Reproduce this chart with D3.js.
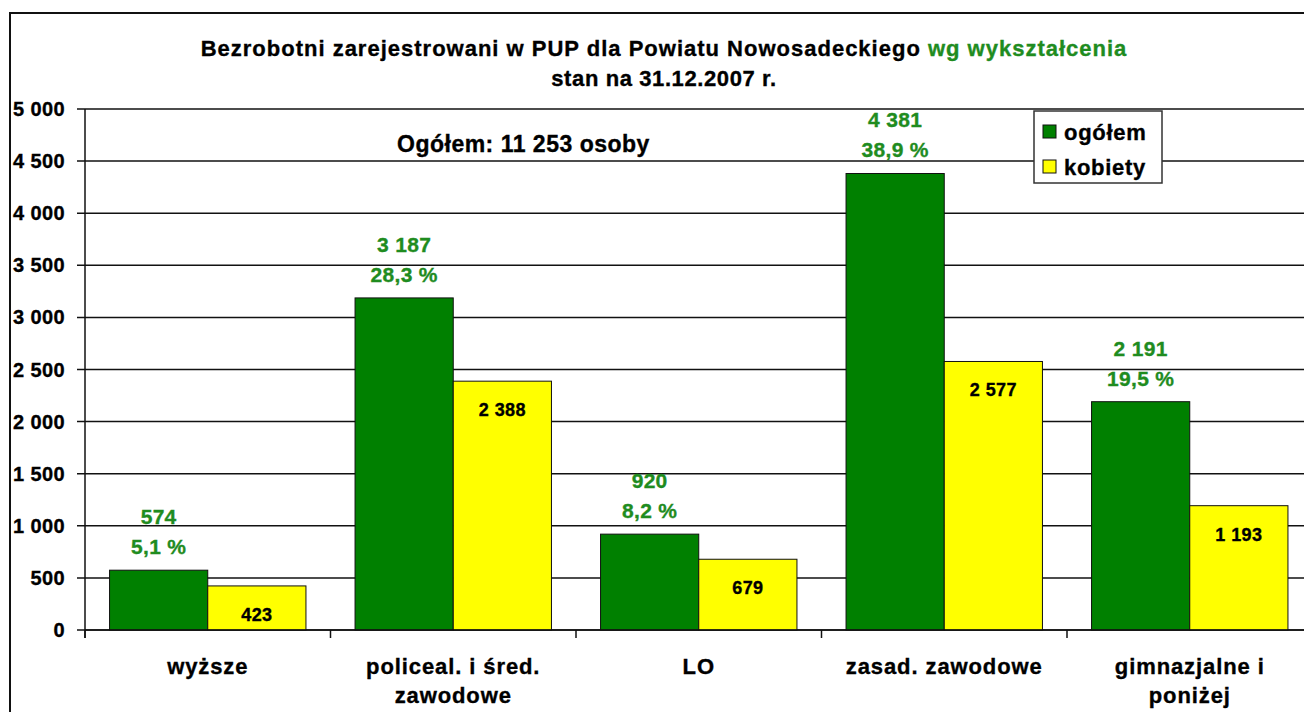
<!DOCTYPE html>
<html>
<head>
<meta charset="utf-8">
<script src="https://cdn.jsdelivr.net/npm/d3@7"></script>
<style>
  body { margin: 0; background: #fff; }
  svg { font-family: "Liberation Sans", Arial, sans-serif; font-weight: bold; }
  svg text { stroke: currentColor; stroke-width: 0.35px; }
</style>
</head>
<body>
<div id="chart"></div>
<script>
// categories and values
let categories = ["wyższe", "policeal. i śred. zawodowe", "LO", "zasad. zawodowe", "gimnazjalne i poniżej"];
let categoryLines = [["wyższe"], ["policeal. i śred.", "zawodowe"], ["LO"], ["zasad. zawodowe"], ["gimnazjalne i", "poniżej"]];
let ogolem = [574, 3187, 920, 4381, 2191];
let kobiety = [423, 2388, 679, 2577, 1193];
let percents = ["5,1 %", "28,3 %", "8,2 %", "38,9 %", "19,5 %"];
let yTicks = [0, 500, 1000, 1500, 2000, 2500, 3000, 3500, 4000, 4500, 5000];
let seriesNames = ["ogółem", "kobiety"];

let green = "#008000", yellow = "#ffff00", labelGreen = "#1f8c1f";

// polish number format: space as thousands separator
let pl = d3.formatLocale({ decimal: ",", thousands: " ", grouping: [3], currency: ["", ""] });
let fmt = pl.format(",d");

let W = 1304, H = 712;
let margin = { top: 109, left: 85, bottom: 82, right: -8.5 };

let svg = d3.select("#chart").append("svg")
    .attr("width", W)
    .attr("height", H);

// outer chart border (runs off the right and bottom edge)
svg.append("rect")
    .attr("x", 10).attr("y", 13)
    .attr("width", W + 20).attr("height", H + 20)
    .attr("fill", "none")
    .attr("stroke", "#111")
    .attr("stroke-width", 2);

let x = d3.scaleBand()
    .domain(categories)
    .range([margin.left, W - margin.right])
    .paddingInner(0.2)
    .paddingOuter(0.1);

let xSub = d3.scaleBand()
    .domain(seriesNames)
    .range([0, x.bandwidth()]);

let y = d3.scaleLinear()
    .domain([0, 5000])
    .range([H - margin.bottom, margin.top]);

// gridlines
svg.append("g")
    .selectAll("line")
    .data(yTicks)
    .enter().append("line")
    .attr("x1", margin.left - 8)
    .attr("x2", W + 10)
    .attr("y1", d => y(d))
    .attr("y2", d => y(d))
    .attr("stroke", "#111")
    .attr("stroke-width", 1.5);

// y tick labels
svg.append("g")
    .selectAll("text")
    .data(yTicks)
    .enter().append("text")
    .attr("x", 65)
    .attr("y", d => y(d) + 7)
    .attr("text-anchor", "end")
    .attr("fill", "#000")
    .style("color", "#000")
    .style("font-size", "20px")
    .style("letter-spacing", "0.4px")
    .text(d => fmt(d));

// y axis line
svg.append("line")
    .attr("x1", margin.left).attr("x2", margin.left)
    .attr("y1", y(5000)).attr("y2", y(0) + 8)
    .attr("stroke", "#111")
    .attr("stroke-width", 1.5);

// category boundary ticks
let boundaries = categories.map(c => x(c) - x.step() * x.paddingInner() / 2);
svg.append("g")
    .selectAll("line")
    .data(boundaries)
    .enter().append("line")
    .attr("x1", d => d).attr("x2", d => d)
    .attr("y1", y(0)).attr("y2", y(0) + 8)
    .attr("stroke", "#111")
    .attr("stroke-width", 1.5);

// bars
let groups = svg.append("g")
    .selectAll("g")
    .data(categories)
    .enter().append("g")
    .attr("transform", d => "translate(" + x(d) + ",0)");

groups.append("rect")
    .attr("x", xSub("ogółem"))
    .attr("y", (d, i) => y(ogolem[i]))
    .attr("width", xSub.bandwidth())
    .attr("height", (d, i) => y(0) - y(ogolem[i]))
    .attr("fill", green)
    .attr("stroke", "#111")
    .attr("stroke-width", 1);

groups.append("rect")
    .attr("x", xSub("kobiety"))
    .attr("y", (d, i) => y(kobiety[i]))
    .attr("width", xSub.bandwidth())
    .attr("height", (d, i) => y(0) - y(kobiety[i]))
    .attr("fill", yellow)
    .attr("stroke", "#111")
    .attr("stroke-width", 1);

// x axis line drawn over bar bottoms
svg.append("line")
    .attr("x1", margin.left).attr("x2", W + 10)
    .attr("y1", y(0)).attr("y2", y(0))
    .attr("stroke", "#111")
    .attr("stroke-width", 1.5);

// green labels: value and share above ogółem bars
groups.append("text")
    .attr("x", xSub("ogółem") + xSub.bandwidth() / 2)
    .attr("y", (d, i) => y(ogolem[i]) - 46)
    .attr("text-anchor", "middle")
    .attr("fill", labelGreen)
    .style("color", labelGreen)
    .style("font-size", "21px")
    .style("letter-spacing", "0.3px")
    .text((d, i) => fmt(ogolem[i]));

groups.append("text")
    .attr("x", xSub("ogółem") + xSub.bandwidth() / 2)
    .attr("y", (d, i) => y(ogolem[i]) - 16)
    .attr("text-anchor", "middle")
    .attr("fill", labelGreen)
    .style("color", labelGreen)
    .style("font-size", "21px")
    .style("letter-spacing", "0.3px")
    .text((d, i) => percents[i]);

// black labels inside kobiety bars
groups.append("text")
    .attr("x", xSub("kobiety") + xSub.bandwidth() / 2)
    .attr("y", (d, i) => y(kobiety[i]) + 35)
    .attr("text-anchor", "middle")
    .attr("fill", "#000")
    .style("color", "#000")
    .style("font-size", "18px")
    .style("letter-spacing", "0.4px")
    .text((d, i) => fmt(kobiety[i]));

// category labels
groups.each(function (d, i) {
    let t = d3.select(this).append("text")
        .attr("text-anchor", "middle")
        .attr("fill", "#000")
        .style("color", "#000")
        .style("font-size", "22px")
        .style("letter-spacing", "0.9px");
    categoryLines[i].forEach((line, j) => {
        t.append("tspan")
            .attr("x", x.bandwidth() / 2)
            .attr("y", 674 + j * 29)
            .text(line);
    });
});

// title
let title = svg.append("text")
    .attr("x", 664)
    .attr("y", 56)
    .attr("text-anchor", "middle")
    .attr("fill", "#000")
    .style("color", "#000")
    .style("font-size", "22px")
    .style("letter-spacing", "1px");
title.append("tspan").text("Bezrobotni zarejestrowani w PUP dla Powiatu Nowosadeckiego ");
title.append("tspan").attr("fill", labelGreen).style("color", labelGreen).text("wg wykształcenia");

svg.append("text")
    .attr("x", 664)
    .attr("y", 86)
    .attr("text-anchor", "middle")
    .attr("fill", "#000")
    .style("color", "#000")
    .style("font-size", "22px")
    .style("letter-spacing", "0.6px")
    .text("stan na 31.12.2007 r.");

// total note
svg.append("text")
    .attr("x", 397)
    .attr("y", 152)
    .attr("fill", "#000")
    .style("color", "#000")
    .style("font-size", "23px")
    .style("letter-spacing", "0.5px")
    .text("Ogółem: 11 253 osoby");

// legend
let legend = svg.append("g").attr("transform", "translate(1034,111)");
legend.append("rect")
    .attr("width", 128).attr("height", 72)
    .attr("fill", "#fff")
    .attr("stroke", "#333")
    .attr("stroke-width", 1.5);

let legendColors = [green, yellow];
seriesNames.forEach((name, i) => {
    legend.append("rect")
        .attr("x", 9).attr("y", 14 + i * 35)
        .attr("width", 13).attr("height", 13)
        .attr("fill", legendColors[i])
        .attr("stroke", "#111")
        .attr("stroke-width", 1);
    legend.append("text")
        .attr("x", 30).attr("y", 29 + i * 35)
        .attr("fill", "#000")
        .style("color", "#000")
        .style("font-size", "22px")
        .style("letter-spacing", "0.7px")
        .text(name);
});
</script>
</body>
</html>
